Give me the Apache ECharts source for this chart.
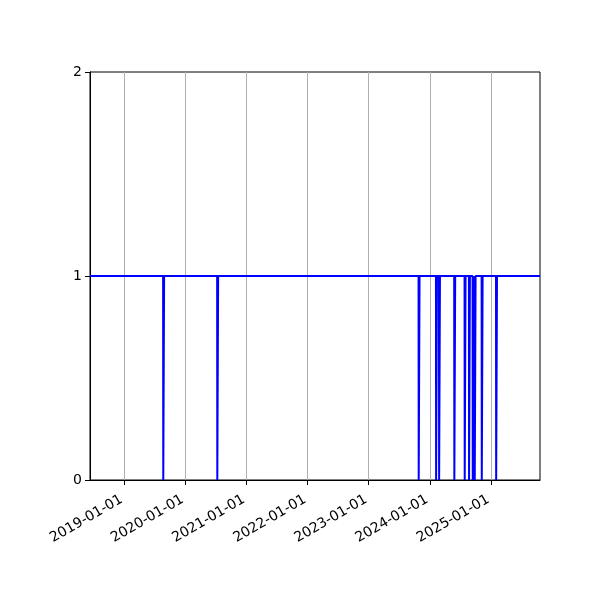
<!DOCTYPE html>
<html>
	<head>
		<meta charset="utf-8" />
		<title>chart</title>
		<style type="text/css">
			body,
			html,
			#main {
				width: 100%;
				height: 100%;
				overflow: hidden;
				margin: 0;
				background: #fff;
			}
		</style>
	</head>
	<body>
		<div id="main"></div>
		<script src="https://cdn.jsdelivr.net/npm/echarts@6/dist/echarts.min.js"></script>
		<script>
			// 轴范围
			var startDate = '2018-06-10';
			var endDate = '2025-10-21';
			// 刻度
			var yearTicks = ['2019-01-01', '2020-01-01', '2021-01-01', '2022-01-01', '2023-01-01', '2024-01-01', '2025-01-01'];
			// 值为 0 的日期（其余为 1）
			var dropDates = [
				'2019-08-24', '2020-07-12', '2023-10-29', '2024-02-10', '2024-02-28',
				'2024-05-29', '2024-07-30', '2024-08-25', '2024-09-16', '2024-09-28',
				'2024-11-09', '2025-02-03'
			];
			var baseValue = 1;
			var dropValue = 0;

			var DAY = 86400000;
			function t(s) { return new Date(s + 'T00:00:00Z').getTime(); }

			var points = [[t(startDate), baseValue]];
			dropDates.forEach(function (d) {
				var x = t(d);
				points.push([x - 3 * DAY, baseValue]);
				points.push([x - 2 * DAY, dropValue]);
				points.push([x + 2 * DAY, dropValue]);
				points.push([x + 3 * DAY, baseValue]);
			});
			points.push([t(endDate), baseValue]);

			var tickValues = yearTicks.map(t);

			var dom = document.getElementById('main');
			var myChart = echarts.init(dom);
			var option = {
				animation: false,
				grid: {
					left: 90,
					right: 60,
					top: 72,
					bottom: 120,
					show: true,
					borderColor: '#000',
					borderWidth: 1,
					backgroundColor: 'transparent'
				},
				xAxis: {
					type: 'value',
					min: t(startDate),
					max: t(endDate),
					axisLine: { show: true, lineStyle: { color: '#000', width: 1 } },
					axisTick: {
						show: true,
						length: 5,
						customValues: tickValues,
						lineStyle: { color: '#000' }
					},
					axisLabel: {
						customValues: tickValues,
						rotate: 30,
						color: '#000',
						fontSize: 14,
						fontFamily: 'DejaVu Sans',
						margin: 17,
						padding: [0, 3, 0, 0],
						formatter: function (v) {
							var d = new Date(v);
							var m = d.getUTCMonth() + 1, dd = d.getUTCDate();
							return d.getUTCFullYear() + '-' + (m < 10 ? '0' : '') + m + '-' + (dd < 10 ? '0' : '') + dd;
						}
					},
					splitLine: { show: false }
				},
				yAxis: {
					type: 'value',
					min: 0,
					max: 2,
					interval: 1,
					axisLine: { show: true, lineStyle: { color: '#000', width: 1 } },
					axisTick: { show: true, length: 5, lineStyle: { color: '#000' } },
					axisLabel: { color: '#000', fontSize: 14, fontFamily: 'DejaVu Sans', margin: 8 },
					splitLine: { show: false }
				},
				series: [
					{
						type: 'line',
						data: points,
						showSymbol: false,
						lineStyle: { color: '#0000ff', width: 2 },
						clip: true,
						z: 3,
						markLine: {
							silent: true,
							symbol: 'none',
							label: { show: false },
							lineStyle: { color: '#b0b0b0', width: 1, type: 'solid' },
							z: 1,
							data: tickValues.map(function (v) { return { xAxis: v }; })
						}
					}
				]
			};
			myChart.setOption(option);
		</script>
	</body>
</html>
